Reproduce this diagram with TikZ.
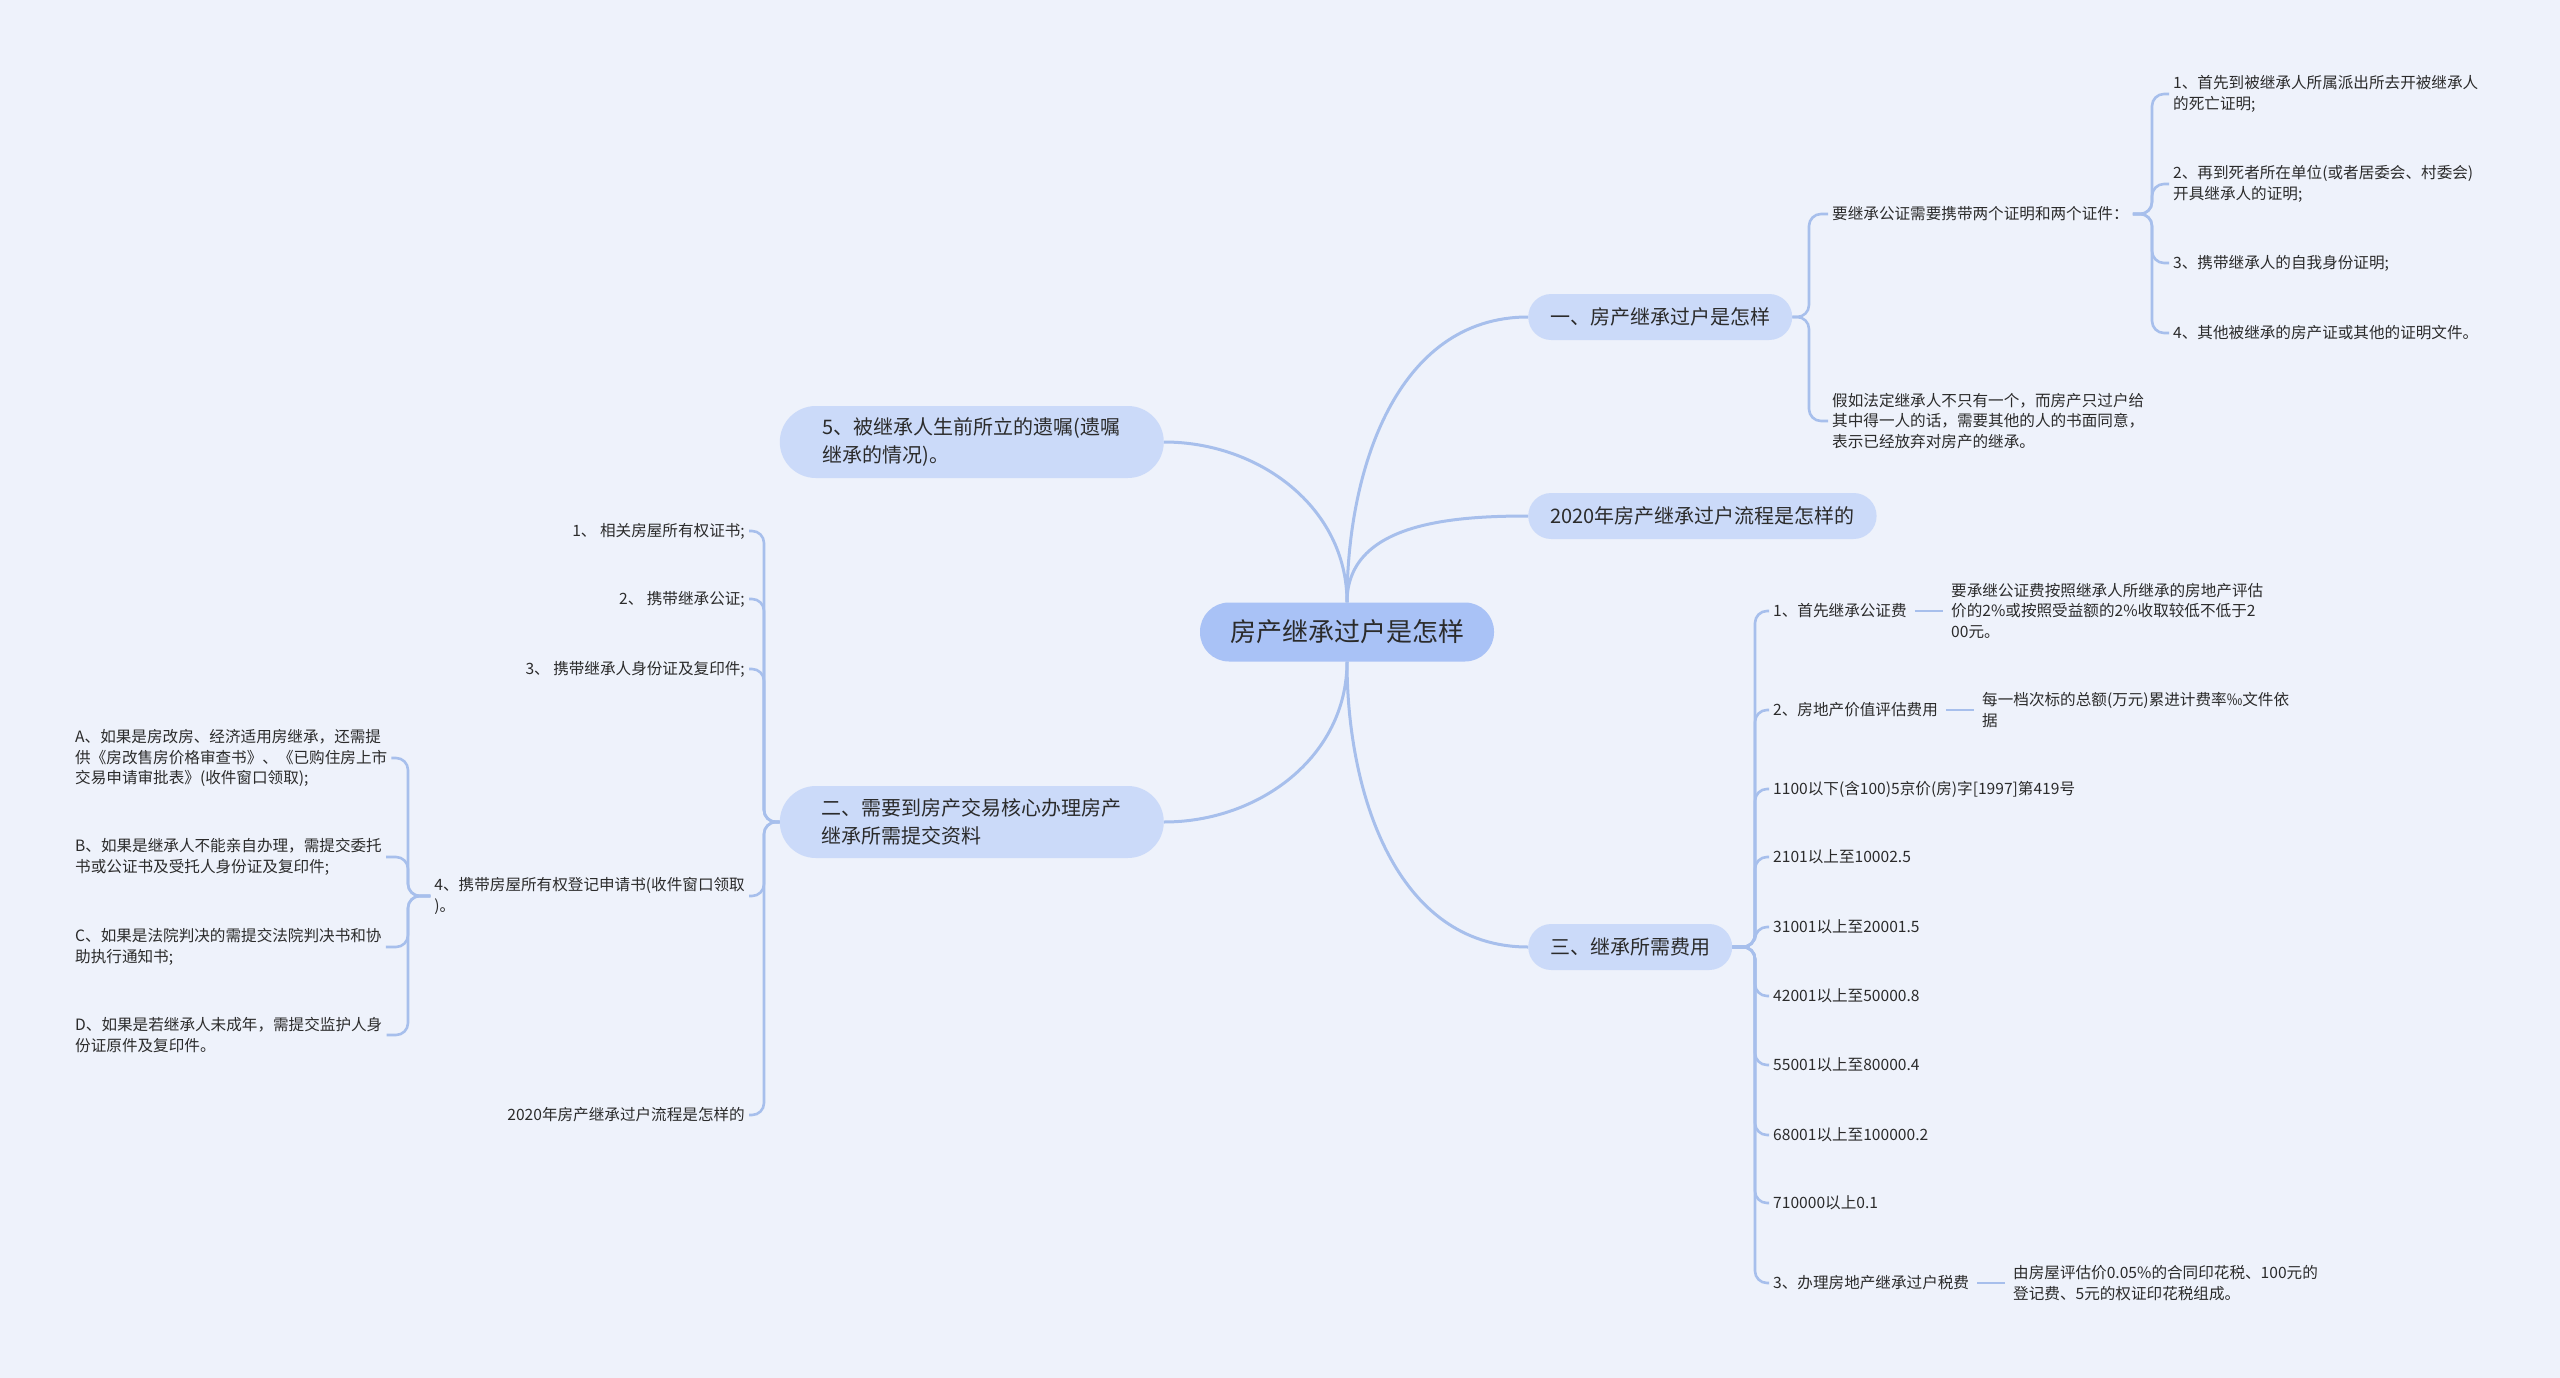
\documentclass[tikz,border=0pt]{standalone}
\usepackage{fontspec}
\setmainfont{Noto Sans CJK SC}
\usepackage{tikz}
\usetikzlibrary{positioning}
\definecolor{paper}{HTML}{EEF2FB}
\definecolor{rootfill}{HTML}{A9C2F6}
\definecolor{topicfill}{HTML}{CBDAF9}
\definecolor{linecol}{HTML}{A7BFEC}
\definecolor{ink}{HTML}{2B2B2B}

\begin{document}
\begin{tikzpicture}[
x=1pt, y=-1pt,
every node/.style={text=ink},
root/.style={fill=rootfill, rounded corners=29pt, minimum height=59pt, inner xsep=30pt, font=\fontsize{26}{32}\selectfont},
topic/.style={fill=topicfill, rounded corners=23pt, minimum height=46pt, inner xsep=22pt, font=\fontsize{20}{28}\selectfont},
topicwide/.style={fill=topicfill, rounded corners=36pt, minimum height=72pt, minimum width=384pt, inner xsep=36pt, align=left, font=\fontsize{20}{28}\selectfont},
leaf/.style={inner xsep=4pt, inner ysep=2pt, align=left, font=\fontsize{15.6}{20.5}\selectfont},
trunk/.style={draw=linecol, line width=3pt},
branch/.style={draw=linecol, line width=2.6pt, rounded corners=12pt}
]
\fill[paper] (0,0) rectangle (2560,1378);
\useasboundingbox (0,0) rectangle (2560,1378);

% Centre and main topics
\node[root] (root) at (1347,632) {房产继承过户是怎样};
\node[topic, anchor=west] (t1) at (1528,317) {一、房产继承过户是怎样};
\node[topic, anchor=west] (t2) at (1528,516) {2020年房产继承过户流程是怎样的};
\node[topic, anchor=west] (t3) at (1528,947) {三、继承所需费用};
\node[topicwide, anchor=east] (t5) at (1164,442) {5、被继承人生前所立的遗嘱(遗嘱\\继承的情况)。};
\node[topicwide, anchor=east] (t4) at (1164,822) {二、需要到房产交易核心办理房产\\继承所需提交资料};

\draw[trunk] (root.north) to[out=90, in=180] (t1.west);
\draw[trunk] (root.north) to[out=90, in=180] (t2.west);
\draw[trunk] (root.north) to[out=90, in=0] (t5.east);
\draw[trunk] (root.south) to[out=-90, in=180] (t3.west);
\draw[trunk] (root.south) to[out=-90, in=0] (t4.east);

% Branch one
\node[leaf, anchor=west] (a1) at (1828,214) {要继承公证需要携带两个证明和两个证件：};
\node[leaf, anchor=west] (a2) at (1828,421) {假如法定继承人不只有一个，而房产只过户给\\其中得一人的话，需要其他的人的书面同意，\\表示已经放弃对房产的继承。};
\coordinate (s1) at (1809,317);
\foreach \n in {1,2}{
    \draw[branch] (t1.east) -- (s1) |- (a\n.west);
}
\foreach \n/\y/\txt in {1/94/{1、首先到被继承人所属派出所去开被继承人\\的死亡证明;},
    2/184/{2、再到死者所在单位(或者居委会、村委会)\\开具继承人的证明;},
    3/263/{3、携带继承人的自我身份证明;},
    4/333/{4、其他被继承的房产证或其他的证明文件。}}{
    \node[leaf, anchor=west] (d\n) at (2169,\y) {\txt};
}
\coordinate (s2) at (2152,214);
\foreach \n in {1,...,4}{
    \draw[branch] (a1.east) -- (s2) |- (d\n.west);
}

% Branch three
\foreach \n/\y/\txt in {1/611/{1、首先继承公证费},
    2/710/{2、房地产价值评估费用},
    3/789/{1100以下(含100)5京价(房)字[1997]第419号},
    4/857/{2101以上至10002.5},
    5/927/{31001以上至20001.5},
    6/996/{42001以上至50000.8},
    7/1065/{55001以上至80000.4},
    8/1135/{68001以上至100000.2},
    9/1203/{710000以上0.1},
    10/1283/{3、办理房地产继承过户税费}}{
    \node[leaf, anchor=west] (c\n) at (1769,\y) {\txt};
}
\coordinate (s3) at (1755,947);
\foreach \n in {1,...,10}{
    \draw[branch] (t3.east) -- (s3) |- (c\n.west);
}
\node[leaf, anchor=west] (c1d) at (1947,611) {要承继公证费按照继承人所继承的房地产评估\\价的2\%或按照受益额的2\%收取较低不低于2\\00元。};
\node[leaf, anchor=west] (c2d) at (1978,710) {每一档次标的总额(万元)累进计费率‰文件依\\据};
\node[leaf, anchor=west] (c10d) at (2009,1283) {由房屋评估价0.05\%的合同印花税、100元的\\登记费、5元的权证印花税组成。};
\draw[branch, shorten <=4pt, shorten >=4pt] (c1.east) -- (c1d.west);
\draw[branch, shorten <=4pt, shorten >=4pt] (c2.east) -- (c2d.west);
\draw[branch, shorten <=4pt, shorten >=4pt] (c10.east) -- (c10d.west);

% Branch two
\foreach \n/\y/\txt in {1/531/{1、 相关房屋所有权证书;},
    2/599/{2、 携带继承公证;},
    3/669/{3、 携带继承人身份证及复印件;},
    4/896/{4、携带房屋所有权登记申请书(收件窗口领取\\)。},
    5/1115/{2020年房产继承过户流程是怎样的}}{
    \node[leaf, anchor=east] (b\n) at (749,\y) {\txt};
}
\coordinate (s4) at (764,822);
\foreach \n in {1,...,5}{
    \draw[branch] (t4.west) -- (s4) |- (b\n.east);
}
\foreach \n/\y/\txt in {1/758/{A、如果是房改房、经济适用房继承，还需提\\供《房改售房价格审查书》、《已购住房上市\\交易申请审批表》(收件窗口领取);},
    2/857/{B、如果是继承人不能亲自办理，需提交委托\\书或公证书及受托人身份证及复印件;},
    3/947/{C、如果是法院判决的需提交法院判决书和协\\助执行通知书;},
    4/1035/{D、如果是若继承人未成年，需提交监护人身\\份证原件及复印件。}}{
    \node[leaf, anchor=west] (e\n) at (71,\y) {\txt};
}
\coordinate (s5) at (408,896);
\foreach \n in {1,...,4}{
    \draw[branch] (b4.west) -- (s5) |- (e\n.east);
}
\end{tikzpicture}
\end{document}
